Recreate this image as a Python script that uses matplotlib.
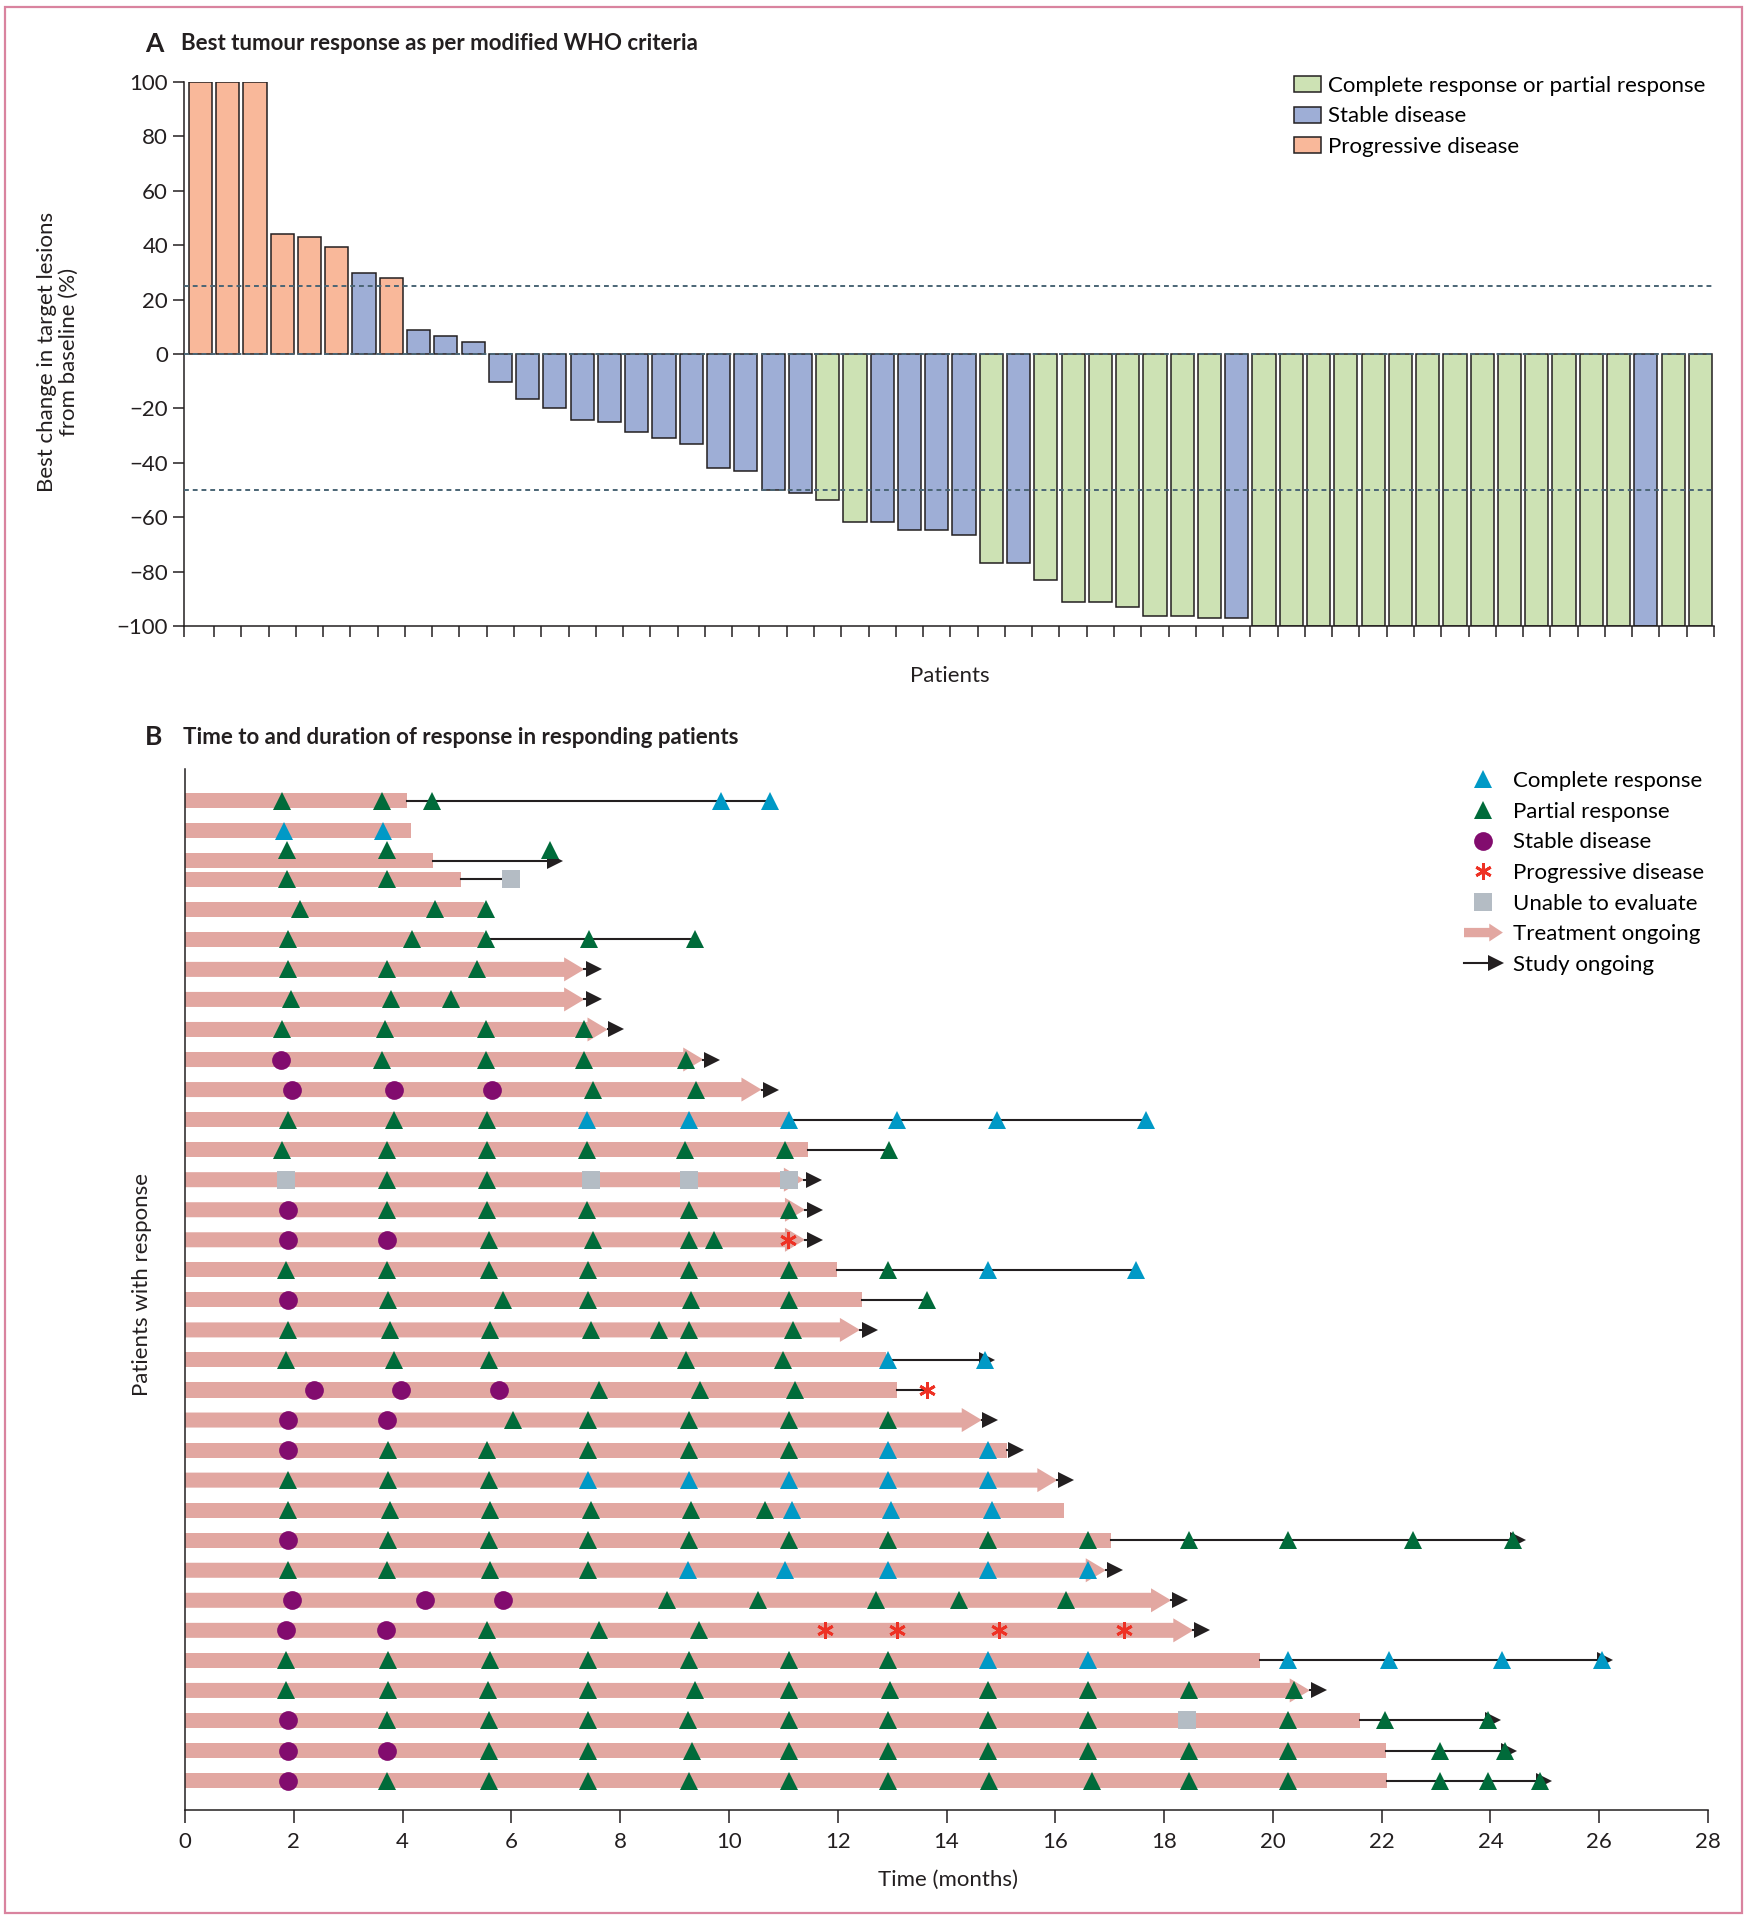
import numpy as np
import matplotlib
matplotlib.use("Agg")
import matplotlib.pyplot as plt
from matplotlib.patches import Patch, FancyArrow, Rectangle
from matplotlib.lines import Line2D
from matplotlib.legend_handler import HandlerBase

plt.rcParams["font.family"] = ["Lato", "DejaVu Sans"]
plt.rcParams["font.size"] = 16

# ---- panel A data: best change per patient (%), and best response group
pct_change = [100, 100, 100, 44, 43, 39.2, 29.8, 27.8, 8.7, 6.8, 4.5,
              -10.3, -16.6, -19.7, -24.1, -25, -28.8, -30.7, -33.2, -41.9,
              -42.9, -49.9, -51.2, -53.5, -61.6, -61.6, -64.8, -64.8, -66.5,
              -76.9, -76.9, -83, -91.3, -91.3, -93, -96.3, -96.3, -97, -97,
              -100, -100, -100, -100, -100, -100, -100, -100, -100, -100,
              -100, -100, -100, -100, -100, -100, -100]
best_resp = ["PD", "PD", "PD", "PD", "PD", "PD", "SD", "PD", "SD", "SD", "SD",
             "SD", "SD", "SD", "SD", "SD", "SD", "SD", "SD", "SD", "SD", "SD",
             "SD", "R", "R", "SD", "SD", "SD", "SD", "R", "SD", "R", "R", "R",
             "R", "R", "R", "R", "SD", "R", "R", "R", "R", "R", "R", "R", "R",
             "R", "R", "R", "R", "R", "R", "SD", "R", "R"]
ref_lines = [25, 0, -50]

# ---- panel B data: one entry per responding patient (months)
treat_end = [4.08, 4.15, 4.56, 5.07, 5.5, 5.5, 7.34, 7.34, 7.77, 9.53, 10.6,
             11.1, 11.45, 11.38, 11.4, 11.4, 11.99, 12.44, 12.41, 12.88,
             13.09, 14.65, 15.11, 16.04, 16.16, 17.03, 16.93, 18.13, 18.54,
             19.77, 20.68, 21.61, 22.08, 22.1]
treat_ongoing = [0, 0, 0, 0, 0, 0, 1, 1, 1, 1, 1, 0, 0, 1, 1, 1, 0, 0, 1, 0,
                 0, 1, 0, 1, 0, 0, 1, 1, 1, 0, 1, 0, 0, 0]
study_end = [10.75, None, 6.8, 6.0, None, 9.38, 7.52, 7.52, 7.93, 9.68, 10.77,
             17.67, 12.95, 11.57, 11.59, 11.58, 17.49, 13.64, 12.6, 14.75,
             13.64, 14.8, 15.27, 16.2, None, 24.5, 17.1, 18.3, 18.7, 26.1,
             20.85, 24.04, 24.34, 24.98]
study_ongoing = [0, 0, 1, 0, 0, 0, 1, 1, 1, 1, 1, 0, 0, 1, 1, 1, 0, 0, 1, 1,
                 0, 1, 1, 1, 0, 1, 1, 1, 1, 1, 1, 1, 1, 1]

cr_times = [[9.85, 10.75], [1.82, 3.64], [], [], [], [], [], [], [], [], [],
            [7.39, 9.26, 11.1, 13.09, 14.93, 17.67], [], [], [], [],
            [14.77, 17.49], [], [], [12.92, 14.7], [], [],
            [12.92, 14.77], [7.41, 9.26, 11.1, 12.92, 14.77],
            [11.16, 12.98, 14.84], [], [9.24, 11.04, 12.92, 14.77, 16.61],
            [], [], [14.77, 16.61, 20.28, 22.13, 24.22, 26.05], [], [], [], []]
pr_times = [[1.79, 3.62, 4.55], [], [1.87, 3.72, 6.71], [1.87, 3.72],
            [2.11, 4.59, 5.53], [1.9, 4.17, 5.53, 7.42, 9.38],
            [1.9, 3.72, 5.37], [1.94, 3.78, 4.89], [1.79, 3.67, 5.53, 7.34],
            [3.62, 5.53, 7.33, 9.21], [7.51, 9.39], [1.9, 3.84, 5.55],
            [1.79, 3.72, 5.55, 7.39, 9.19, 11.03, 12.95], [3.72, 5.55],
            [3.72, 5.55, 7.39, 9.26, 11.1], [5.58, 7.5, 9.26, 9.73],
            [1.86, 3.72, 5.58, 7.41, 9.26, 11.1, 12.92],
            [3.74, 5.85, 7.41, 9.3, 11.1, 13.64],
            [1.89, 3.76, 5.61, 7.46, 8.72, 9.26, 11.17],
            [1.86, 3.84, 5.58, 9.21, 11.0], [7.62, 9.47, 11.21],
            [6.03, 7.41, 9.26, 11.1, 12.92], [3.74, 5.55, 7.41, 9.26, 11.1],
            [1.9, 3.74, 5.58], [1.9, 3.76, 5.61, 7.46, 9.31, 10.66],
            [3.74, 5.58, 7.41, 9.26, 11.1, 12.92, 14.77, 16.61, 18.46, 20.28,
             22.58, 24.42],
            [1.9, 3.72, 5.61, 7.41], [8.86, 10.53, 12.71, 14.23, 16.2],
            [5.55, 7.62, 9.45],
            [1.86, 3.74, 5.61, 7.41, 9.26, 11.1, 12.92],
            [1.86, 3.74, 5.57, 7.41, 9.37, 11.1, 12.97, 14.77, 16.6, 18.46,
             20.38],
            [3.71, 5.58, 7.41, 9.25, 11.1, 12.92, 14.77, 16.6, 20.28, 22.07,
             23.96],
            [5.58, 7.41, 9.32, 11.1, 12.92, 14.77, 16.6, 18.46, 20.28, 23.07,
             24.26],
            [3.72, 5.58, 7.41, 9.27, 11.1, 12.92, 14.78, 16.67, 18.46, 20.28,
             23.07, 23.96, 24.91]]
sd_times = [[], [], [], [], [], [], [], [], [], [1.77], [1.96, 3.84, 5.65],
            [], [], [], [1.89], [1.89, 3.72], [], [1.89], [], [],
            [2.37, 3.98, 5.78], [1.9, 3.72], [1.9], [], [], [1.9], [],
            [1.97, 4.42, 5.85], [1.86, 3.7], [], [], [1.89], [1.89, 3.72],
            [1.89]]
pd_times = [[], [], [], [], [], [], [], [], [], [], [], [], [], [], [],
            [11.08], [], [], [], [], [13.64], [], [], [], [], [], [], [],
            [11.76, 13.09, 14.96, 17.26], [], [], [], [], []]
ue_times = [[], [], [], [6.0], [], [], [], [], [], [], [], [], [],
            [1.86, 7.46, 9.26, 11.1], [], [], [], [], [], [], [], [], [], [],
            [], [], [], [], [], [], [], [18.43], [], []]

# colours
c_pd_bar = "#F9B89A"
c_sd_bar = "#9EAED6"
c_r_bar = "#CDE2B4"
bar_cols = {"PD": c_pd_bar, "SD": c_sd_bar, "R": c_r_bar}
c_ink = "#231F20"
c_pink = "#E2A7A1"
c_cr = "#0099C6"
c_pr = "#006B3A"
c_sd = "#820C6E"
c_pdm = "#EE3124"
c_ue = "#B4BCC4"

W, H = 1747, 1920
fig = plt.figure(figsize=(W / 100, H / 100), dpi=100)
fig.patches.append(Rectangle((5 / W, 7 / H), 1737 / W, 1906 / H,
                             transform=fig.transFigure, fill=False,
                             edgecolor="#D9839F", lw=1.6))

# ================= panel A =================
axA = fig.add_axes([184 / W, 1 - 626 / H, 1530 / W, 544 / H])
xpos = np.arange(len(pct_change))
axA.bar(xpos, pct_change, width=0.85,
        color=[bar_cols[r] for r in best_resp],
        edgecolor=c_ink, linewidth=1.1, zorder=2)
for v in ref_lines:
    axA.axhline(v, color="#4A6575", lw=1.4, ls=(0, (2.5, 2.0)), zorder=3)
axA.set_xlim(-0.6, 55.5)
axA.set_ylim(-100, 100)
axA.set_yticks(np.arange(-100, 101, 20))
axA.set_xticks(np.r_[-0.6, np.arange(0.5, 56)])
axA.set_xticklabels([])
for s in ["top", "right"]:
    axA.spines[s].set_visible(False)
for s in ["left", "bottom"]:
    axA.spines[s].set_color(c_ink)
    axA.spines[s].set_linewidth(1.1)
axA.tick_params(direction="out", length=8, width=1.1, color=c_ink,
                labelsize=16, labelcolor=c_ink)
fig.text(950 / W, 1 - 676 / H, "Patients", ha="center", va="center",
         fontsize=16, color=c_ink)
fig.text(58 / W, 1 - 352 / H, "Best change in target lesions\nfrom baseline (%)",
         rotation=90, ha="center", va="center", fontsize=16, color=c_ink,
         linespacing=1.1)
fig.text(145 / W, 1 - 44 / H, "A", ha="left", va="center", fontsize=19,
         fontweight="bold", color=c_ink)
fig.text(181 / W, 1 - 44 / H, "Best tumour response as per modified WHO criteria",
         ha="left", va="center", fontsize=16, fontweight="bold", color=c_ink)

legA = [Patch(facecolor=c_r_bar, edgecolor=c_ink, lw=1.1),
        Patch(facecolor=c_sd_bar, edgecolor=c_ink, lw=1.1),
        Patch(facecolor=c_pd_bar, edgecolor=c_ink, lw=1.1)]
axA.legend(legA, ["Complete response or partial response", "Stable disease",
                  "Progressive disease"],
           loc="upper left", bbox_to_anchor=(1294 / W, 1 - 76 / H),
           bbox_transform=fig.transFigure, frameon=False, fontsize=16,
           handlelength=1.2, handleheight=0.75, handletextpad=0.35,
           labelspacing=0.47, borderpad=0, borderaxespad=0)

# ================= panel B =================
axB = fig.add_axes([185 / W, 1 - 1810 / H, 1523 / W, 1041 / H])
n_rows = len(treat_end)
row_y = np.arange(n_rows, dtype=float)
row_y[3:] -= 0.39
mark_y = row_y.copy()
mark_y[2] -= 0.38

for i in range(n_rows):
    y = row_y[i]
    if treat_ongoing[i]:
        axB.add_patch(FancyArrow(0, y, treat_end[i], 0, width=0.5,
                                 head_width=0.8, head_length=0.37,
                                 length_includes_head=True, color=c_pink,
                                 lw=0, zorder=1))
    else:
        axB.barh(y, treat_end[i], height=0.5, color=c_pink, zorder=1)
    if study_end[i] is not None:
        axB.plot([treat_end[i], study_end[i]], [y, y], color=c_ink, lw=1.5,
                 zorder=2)
        if study_ongoing[i]:
            axB.plot(study_end[i], y, marker=">", ms=12, color=c_ink,
                     mew=0, zorder=2.5)


def flat(times):
    xs, ys = [], []
    for i, row in enumerate(times):
        for t in row:
            xs.append(t)
            ys.append(mark_y[i])
    return xs, ys


marker_specs = [
    (cr_times, dict(marker="^", ms=13, color=c_cr, mew=0)),
    (pr_times, dict(marker="^", ms=13, color=c_pr, mew=0)),
    (sd_times, dict(marker="o", ms=13.5, color=c_sd, mew=0)),
    (pd_times, dict(marker=(6, 2, 0), ms=12, color=c_pdm, mew=2)),
    (ue_times, dict(marker="s", ms=12.5, color=c_ue, mew=0)),
]
for times, kw in marker_specs:
    xs, ys = flat(times)
    axB.plot(xs, ys, ls="none", zorder=3, **kw)

axB.set_xlim(0, 28)
axB.set_ylim(33.59, -1.06)
axB.set_xticks(np.arange(0, 29, 2))
axB.set_yticks([])
for s in ["top", "right"]:
    axB.spines[s].set_visible(False)
for s in ["left", "bottom"]:
    axB.spines[s].set_color(c_ink)
    axB.spines[s].set_linewidth(1.1)
axB.tick_params(axis="x", direction="out", length=9, width=1.1, color=c_ink,
                labelsize=16, labelcolor=c_ink, pad=7)
fig.text(948 / W, 1 - 1880 / H, "Time (months)", ha="center", va="center",
         fontsize=16, color=c_ink)
fig.text(142 / W, 1 - 1285 / H, "Patients with response", rotation=90,
         ha="center", va="center", fontsize=16, color=c_ink)
fig.text(145 / W, 1 - 737 / H, "B", ha="left", va="center", fontsize=19,
         fontweight="bold", color=c_ink)
fig.text(183 / W, 1 - 737 / H,
         "Time to and duration of response in responding patients",
         ha="left", va="center", fontsize=16, fontweight="bold", color=c_ink)


class HandlerTreat(HandlerBase):
    def create_artists(self, legend, orig_handle, xdescent, ydescent,
                       width, height, fontsize, trans):
        y0 = -ydescent + height / 2
        arr = FancyArrow(-xdescent, y0, width, 0, width=height * 0.6,
                         head_width=height * 1.15, head_length=width * 0.35,
                         length_includes_head=True, color=c_pink, lw=0,
                         transform=trans)
        return [arr]


class HandlerStudy(HandlerBase):
    def create_artists(self, legend, orig_handle, xdescent, ydescent,
                       width, height, fontsize, trans):
        y0 = -ydescent + height / 2
        x0 = -xdescent
        ln = Line2D([x0, x0 + width * 0.85], [y0, y0], color=c_ink, lw=1.5,
                    transform=trans)
        hd = Line2D([x0 + width * 0.82], [y0], marker=">", ms=12, mew=0,
                    color=c_ink, transform=trans)
        return [ln, hd]


treat_h = Patch()
study_h = Line2D([], [])
legB = [Line2D([], [], ls="none", marker="^", ms=13, color=c_cr, mew=0),
        Line2D([], [], ls="none", marker="^", ms=13, color=c_pr, mew=0),
        Line2D([], [], ls="none", marker="o", ms=13.5, color=c_sd, mew=0),
        Line2D([], [], ls="none", marker=(6, 2, 0), ms=12, color=c_pdm, mew=2),
        Line2D([], [], ls="none", marker="s", ms=12.5, color=c_ue, mew=0),
        treat_h, study_h]
axB.legend(legB, ["Complete response", "Partial response", "Stable disease",
                  "Progressive disease", "Unable to evaluate",
                  "Treatment ongoing", "Study ongoing"],
           handler_map={treat_h: HandlerTreat(), study_h: HandlerStudy()},
           loc="upper left", bbox_to_anchor=(1464 / W, 1 - 771 / H),
           bbox_transform=fig.transFigure, frameon=False, fontsize=16,
           handlelength=1.75, handletextpad=0.45, labelspacing=0.48,
           borderpad=0, borderaxespad=0)

fig.savefig("out.png", dpi=100)
